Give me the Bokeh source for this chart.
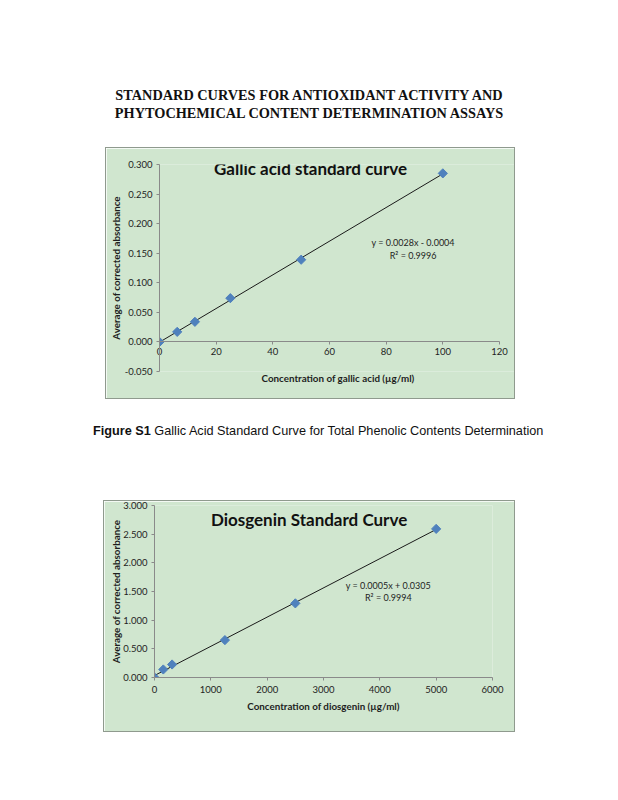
import numpy as np
from bokeh.plotting import figure
from bokeh.models import (Div, Label, NumeralTickFormatter, FixedTicker, Range1d,
                          LinearAxis, CustomJSTickFormatter)
from bokeh.embed import file_html
from bokeh.resources import INLINE

# ---------------- data ----------------
page_title_lines = ["STANDARD CURVES FOR ANTIOXIDANT ACTIVITY AND",
                    "PHYTOCHEMICAL CONTENT DETERMINATION ASSAYS"]
caption_bold = "Figure S1"
caption_text = "Gallic Acid Standard Curve for Total Phenolic Contents Determination"

ylabel = "Average of corrected absorbance"

gallic_title = "Gallic acid standard curve"
gallic_xlabel = "Concentration of gallic acid (µg/ml)"
gallic_conc = [0, 6.25, 12.5, 25, 50, 100]
gallic_abs = [0.000, 0.017, 0.034, 0.074, 0.139, 0.285]
gallic_eq = "y = 0.0028x - 0.0004"
gallic_r2 = "R² = 0.9996"
gallic_xticks = [0, 20, 40, 60, 80, 100, 120]
gallic_yticks = [-0.05, 0.0, 0.05, 0.10, 0.15, 0.20, 0.25, 0.30]

dios_title = "Diosgenin Standard Curve"
dios_xlabel = "Concentration of diosgenin (µg/ml)"
dios_conc = [0, 156.25, 312.5, 1250, 2500, 5000]
dios_abs = [0.000, 0.140, 0.227, 0.652, 1.293, 2.592]
dios_eq = "y = 0.0005x + 0.0305"
dios_r2 = "R² = 0.9994"
dios_xticks = [0, 1000, 2000, 3000, 4000, 5000, 6000]
dios_yticks = [0.0, 0.5, 1.0, 1.5, 2.0, 2.5, 3.0]

FILL = "#d0e6cf"
BORDER = "#8f9a8e"
AXIS = "#8a8a8a"
MARK = "#4f81bd"
TXT = "#1e1e1e"
FONT = "Lato"
CW, CH1, CH2 = 410, 252, 232   # chart content sizes (px)


def style_axis(ax):
    ax.axis_line_color = AXIS
    ax.major_tick_line_color = AXIS
    ax.minor_tick_line_color = None
    ax.major_label_text_font = FONT
    ax.major_label_text_font_size = "9.5px"
    ax.major_label_text_color = TXT
    ax.axis_label_text_font = FONT
    ax.axis_label_text_font_size = "9.8px"
    ax.axis_label_text_font_style = "bold"
    ax.axis_label_text_color = TXT
    ax.major_tick_out = 3
    ax.major_tick_in = 0
    ax.major_label_standoff = 5


def add_marks(p, conc, absb, title, eq, r2, title_pos, eq_pos):
    # trendline from least-squares fit of the data
    k, b = np.polyfit(conc, absb, 1)
    xs = [min(conc), max(conc)]
    p.line(xs, [k * v + b for v in xs], line_color="#1a1a1a", line_width=1)
    p.scatter(conc, absb, marker="square", angle=np.pi / 4, size=6.5,
              fill_color=MARK, line_color=MARK)
    p.add_layout(Label(x=title_pos[0], y=title_pos[1], text=title, text_align="center",
                       text_baseline="middle", text_font=FONT, text_font_size="17px",
                       text_font_style="bold", text_color="#111111"))
    for txt, yy in ((eq, eq_pos[1]), (r2, eq_pos[2])):
        p.add_layout(Label(x=eq_pos[0], y=yy, text=txt, text_align="center",
                           text_baseline="middle", text_font=FONT, text_font_size="9px",
                           text_color=TXT))


# ---------- chart 1 : x axis crosses at y = 0 ----------
L1, R1, T1, B1 = 53, 17, 16, 29            # frame borders inside the chart box (px)
x_end1 = gallic_xticks[-1] + R1 * (gallic_xticks[-1] - gallic_xticks[0]) / (CW - L1 - R1)
p1 = figure(width=CW, height=CH1, output_backend="svg", toolbar_location=None,
            x_range=Range1d(gallic_xticks[0], x_end1),
            y_range=Range1d(gallic_yticks[0], gallic_yticks[-1]),
            min_border_left=L1, min_border_right=0, min_border_top=T1, min_border_bottom=B1,
            background_fill_color=FILL, border_fill_color=FILL,
            outline_line_color=None, margin=(0, 0, 0, 105))
p1.styles = {"border": "1px solid " + BORDER}
p1.grid.visible = False
style_axis(p1.yaxis[0])
style_axis(p1.xaxis[0])
p1.yaxis.ticker = FixedTicker(ticks=gallic_yticks)
p1.yaxis.formatter = NumeralTickFormatter(format="0.000")
p1.yaxis.axis_label = ylabel
p1.yaxis.axis_label_standoff = 0
p1.yaxis.major_label_standoff = 4
# bottom axis only carries the tick labels (raised to the zero line) and the title
bx = p1.xaxis[0]
bx.ticker = FixedTicker(ticks=gallic_xticks)
bx.axis_line_color = None
bx.major_tick_line_color = None
bx.major_tick_out = 0
bx.major_label_standoff = -24
bx.axis_label = gallic_xlabel
bx.axis_label_standoff = 14
# the zero line axis with its tick marks
zx = LinearAxis(fixed_location=0, ticker=FixedTicker(ticks=gallic_xticks),
                formatter=CustomJSTickFormatter(code="return ''"),
                bounds=(gallic_xticks[0], gallic_xticks[-1]))
style_axis(zx)
p1.add_layout(zx, "below")
add_marks(p1, gallic_conc, gallic_abs, gallic_title, gallic_eq, gallic_r2,
          (53.3, 0.293), (89.5, 0.168, 0.146))

# ---------- chart 2 : ordinary axes ----------
p2 = figure(width=CW + 2, height=CH2, output_backend="svg", toolbar_location=None,
            x_range=Range1d(dios_xticks[0], dios_xticks[-1]),
            y_range=Range1d(dios_yticks[0], dios_yticks[-1]),
            min_border_left=50, min_border_right=24, min_border_top=4, min_border_bottom=56,
            background_fill_color=FILL, border_fill_color=FILL,
            outline_line_color=None, margin=(0, 0, 0, 103))
p2.styles = {"border": "1px solid " + BORDER}
p2.grid.visible = False
style_axis(p2.xaxis[0])
style_axis(p2.yaxis[0])
p2.xaxis.ticker = FixedTicker(ticks=dios_xticks)
p2.yaxis.ticker = FixedTicker(ticks=dios_yticks)
p2.yaxis.formatter = NumeralTickFormatter(format="0.000")
p2.yaxis.axis_label = ylabel
p2.yaxis.axis_label_standoff = -2
p2.yaxis.major_label_standoff = 4
p2.xaxis.axis_label = dios_xlabel
p2.xaxis.axis_label_standoff = 4
add_marks(p2, dios_conc, dios_abs, dios_title, dios_eq, dios_r2,
          (2744, 2.756), (4150, 1.605, 1.395))

title_div = Div(text=('<div style="width:618px;padding-top:86px;text-align:center;'
                      'font-family:\'Liberation Serif\';font-weight:bold;font-size:14.3px;'
                      'line-height:18px;color:#111;white-space:nowrap">'
                      + "<br>".join(page_title_lines) + '</div>'),
                width=618, height=147, margin=(0, 0, 0, 0))

caption_div = Div(text=('<div style="padding-top:24px;padding-left:93px;font-family:\'Liberation Sans\';'
                        'font-size:12.7px;line-height:16px;color:#111;white-space:nowrap"><b>'
                        + caption_bold + '</b> ' + caption_text + '</div>'),
                  width=618, height=101, margin=(0, 0, 0, 0))

# separate roots, stacked on the page (no cross-plot frame alignment)
open("out.html", "w").write(file_html([title_div, p1, caption_div, p2], INLINE))
